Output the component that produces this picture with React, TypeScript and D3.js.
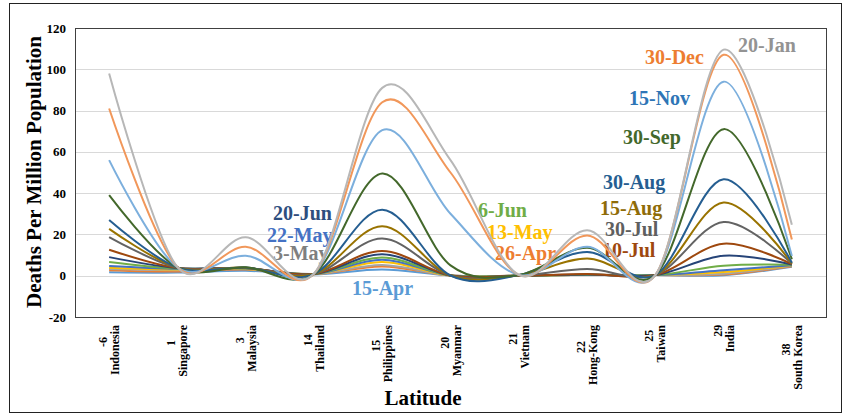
import React, { useEffect, useRef } from 'react';
import * as d3 from 'd3';

const countries = ['Indonesia', 'Singapore', 'Malaysia', 'Thailand', 'Philippines', 'Myanmar', 'Vietnam', 'Hong-Kong', 'Taiwan', 'India', 'South Korea'];
const latitudes = ['-6', '1', '3', '14', '15', '20', '21', '22', '25', '29', '38'];
const yTicks = [-20, 0, 20, 40, 60, 80, 100, 120];

const seriesNames = ['15-Apr', '26-Apr', '3-May', '13-May', '22-May', '6-Jun', '20-Jun', '10-Jul', '30-Jul', '15-Aug', '30-Aug', '30-Sep', '15-Nov', '30-Dec', '20-Jan'];

const s15Apr = [1.7, 1.5, 2.4, 0.6, 3, 0.1, 0, 0.5, 0.3, 0.27, 4.3];
const s26Apr = [2.7, 2, 3, 0.7, 4.5, 0.1, 0, 0.5, 0.3, 0.6, 4.6];
const s3May = [3.2, 2.7, 3.2, 0.8, 5.2, 0.1, 0, 0.5, 0.3, 1.0, 4.8];
const s13May = [3.9, 3, 3.3, 0.8, 6.6, 0.1, 0, 0.5, 0.3, 1.75, 5];
const s22May = [4.7, 3.3, 3.5, 0.8, 7.7, 0.1, 0, 0.5, 0.3, 2.6, 5.1];
const s6Jun = [6.7, 3.5, 3.6, 0.8, 8.8, 0.1, 0, 0.5, 0.3, 4.8, 5.3];
const s20Jun = [9, 3.7, 3.7, 0.8, 10.4, 0.1, 0, 0.6, 0.3, 9.7, 5.4];
const s10Jul = [12.6, 3.8, 3.7, 0.8, 12, 0.1, 0, 0.8, 0.3, 15.5, 5.6];
const s30Jul = [18.7, 3.9, 3.8, 0.8, 18, 0.1, 0, 3.2, 0.3, 26, 5.8];
const s15Aug = [22.7, 4, 3.9, 0.8, 24, 0.1, 0.2, 8.3, 0.3, 35.5, 5.9];
const s30Aug = [27, 4, 4, 0.8, 32, 0.1, 0.3, 11.5, 0.3, 46.7, 6.3];
const s30Sep = [39, 4, 4.1, 0.8, 49.5, 5, 0.4, 13.5, 0.3, 71, 8];
const s15Nov = [56, 4.1, 9.7, 0.9, 70.5, 30, 0.4, 14, 0.3, 94, 9.6];
const s30Dec = [81, 4.2, 14, 0.9, 84, 50, 0.4, 19.5, 0.3, 107, 17.5];
const s20Jan = [98, 4.2, 18.6, 1.0, 91, 56, 0.4, 22, 0.3, 109.5, 24.7];

const seriesValues = [s15Apr, s26Apr, s3May, s13May, s22May, s6Jun, s20Jun, s10Jul, s30Jul, s15Aug, s30Aug, s30Sep, s15Nov, s30Dec, s20Jan];

const lineColors = ['#5B9BD5', '#ED7D31', '#A5A5A5', '#FFC000', '#4472C4', '#70AD47', '#264478', '#9E480E', '#636363', '#997300', '#255E91', '#43682B', '#7CAFDD', '#F1975A', '#B7B7B7'];
const labelColors = ['#5B9BD5', '#ED7D31', '#7F7F7F', '#FFC000', '#4472C4', '#70AD47', '#2E4E7E', '#9E480E', '#5F5F5F', '#8F6C08', '#255E91', '#43682B', '#2E75B6', '#ED7D31', '#939393'];
// label anchor (left x, baseline y) in pixels
const labelPos: [number, number][] = [
  [352, 295], [495, 260], [273, 260], [487, 239], [267, 242], [478, 217], [273, 220],
  [602, 257], [605, 236], [600, 215], [603, 189], [623, 144], [629, 105], [645, 64], [738, 52],
];

const W = 852, H = 418;
const M = { left: 75, right: 826, top: 28, bottom: 317 };
const SERIF = '"Liberation Serif", "Times New Roman", serif';

export default function App() {
  const ref = useRef<SVGSVGElement>(null);
  useEffect(() => {
    const svg = d3.select(ref.current);
    svg.selectAll('*').remove();
    const x = d3.scalePoint<string>().domain(countries).range([M.left, M.right]).padding(0.5);
    const y = d3.scaleLinear().domain([-20, 120]).range([M.bottom, M.top]);

    svg.append('rect').attr('x', 0).attr('y', 0).attr('width', W).attr('height', H).attr('fill', '#fff');
    svg.append('rect').attr('x', 9.5).attr('y', 3.5).attr('width', 832).attr('height', 409)
      .attr('fill', 'none').attr('stroke', '#222').attr('stroke-width', 1);

    // gridlines
    svg.append('g').selectAll('line').data(yTicks.filter(t => t > -20 && t < 120)).join('line')
      .attr('x1', M.left).attr('x2', M.right)
      .attr('y1', d => Math.round(y(d)) + 0.5).attr('y2', d => Math.round(y(d)) + 0.5)
      .attr('stroke', '#D9D9D9').attr('stroke-width', 1);

    // y tick labels
    svg.append('g').selectAll('text').data(yTicks).join('text')
      .attr('x', 66).attr('y', d => y(d)).attr('dy', '0.35em')
      .attr('text-anchor', 'end').attr('font-family', SERIF).attr('font-weight', 'bold')
      .attr('font-size', 13).attr('fill', '#000').text(d => String(d));

    // annotation labels (under lines)
    svg.append('g').selectAll('text').data(seriesNames).join('text')
      .attr('x', (d, i) => labelPos[i][0]).attr('y', (d, i) => labelPos[i][1])
      .attr('font-family', SERIF).attr('font-weight', 'bold').attr('font-size', 20)
      .attr('fill', (d, i) => labelColors[i]).text(d => d);

    // lines
    const line = d3.line<number>()
      .x((d, i) => x(countries[i])!)
      .y(d => y(d))
      .curve(d3.curveCardinal.tension(0));
    svg.append('g').selectAll('path').data(seriesValues).join('path')
      .attr('d', d => line(d))
      .attr('fill', 'none').attr('stroke', (d, i) => lineColors[i]).attr('stroke-width', 2)
      .attr('stroke-linejoin', 'round');

    // plot border
    svg.append('rect').attr('x', M.left + 0.5).attr('y', M.top + 0.5)
      .attr('width', M.right - M.left).attr('height', M.bottom - M.top)
      .attr('fill', 'none').attr('stroke', '#404040').attr('stroke-width', 1);

    // x tick labels
    const top = 325;
    const gx = svg.append('g');
    countries.forEach((c, i) => {
      const cx = x(c)!;
      const t2 = gx.append('text')
        .attr('transform', `translate(${cx + 10},${top}) rotate(-90)`)
        .attr('text-anchor', 'end').attr('font-family', SERIF).attr('font-weight', 'bold')
        .attr('font-size', 12).attr('fill', '#000').text(c);
      const len = (t2.node() as SVGTextElement).getComputedTextLength();
      gx.append('text')
        .attr('transform', `translate(${cx - 2},${top + len / 2 - 8}) rotate(-90)`)
        .attr('text-anchor', 'middle').attr('font-family', SERIF).attr('font-weight', 'bold')
        .attr('font-size', 12).attr('fill', '#000').text(latitudes[i]);
    });

    // axis titles
    svg.append('text').attr('transform', `translate(41,172) rotate(-90)`)
      .attr('text-anchor', 'middle').attr('font-family', SERIF).attr('font-weight', 'bold')
      .attr('font-size', 21).attr('fill', '#000').text('Deaths Per Million Population');
    svg.append('text').attr('x', 423).attr('y', 405)
      .attr('text-anchor', 'middle').attr('font-family', SERIF).attr('font-weight', 'bold')
      .attr('font-size', 21).attr('fill', '#000').text('Latitude');
  }, []);
  return (
    <svg ref={ref} width={W} height={H} style={{ position: 'absolute', left: 0, top: 0, display: 'block' }} />
  );
}
